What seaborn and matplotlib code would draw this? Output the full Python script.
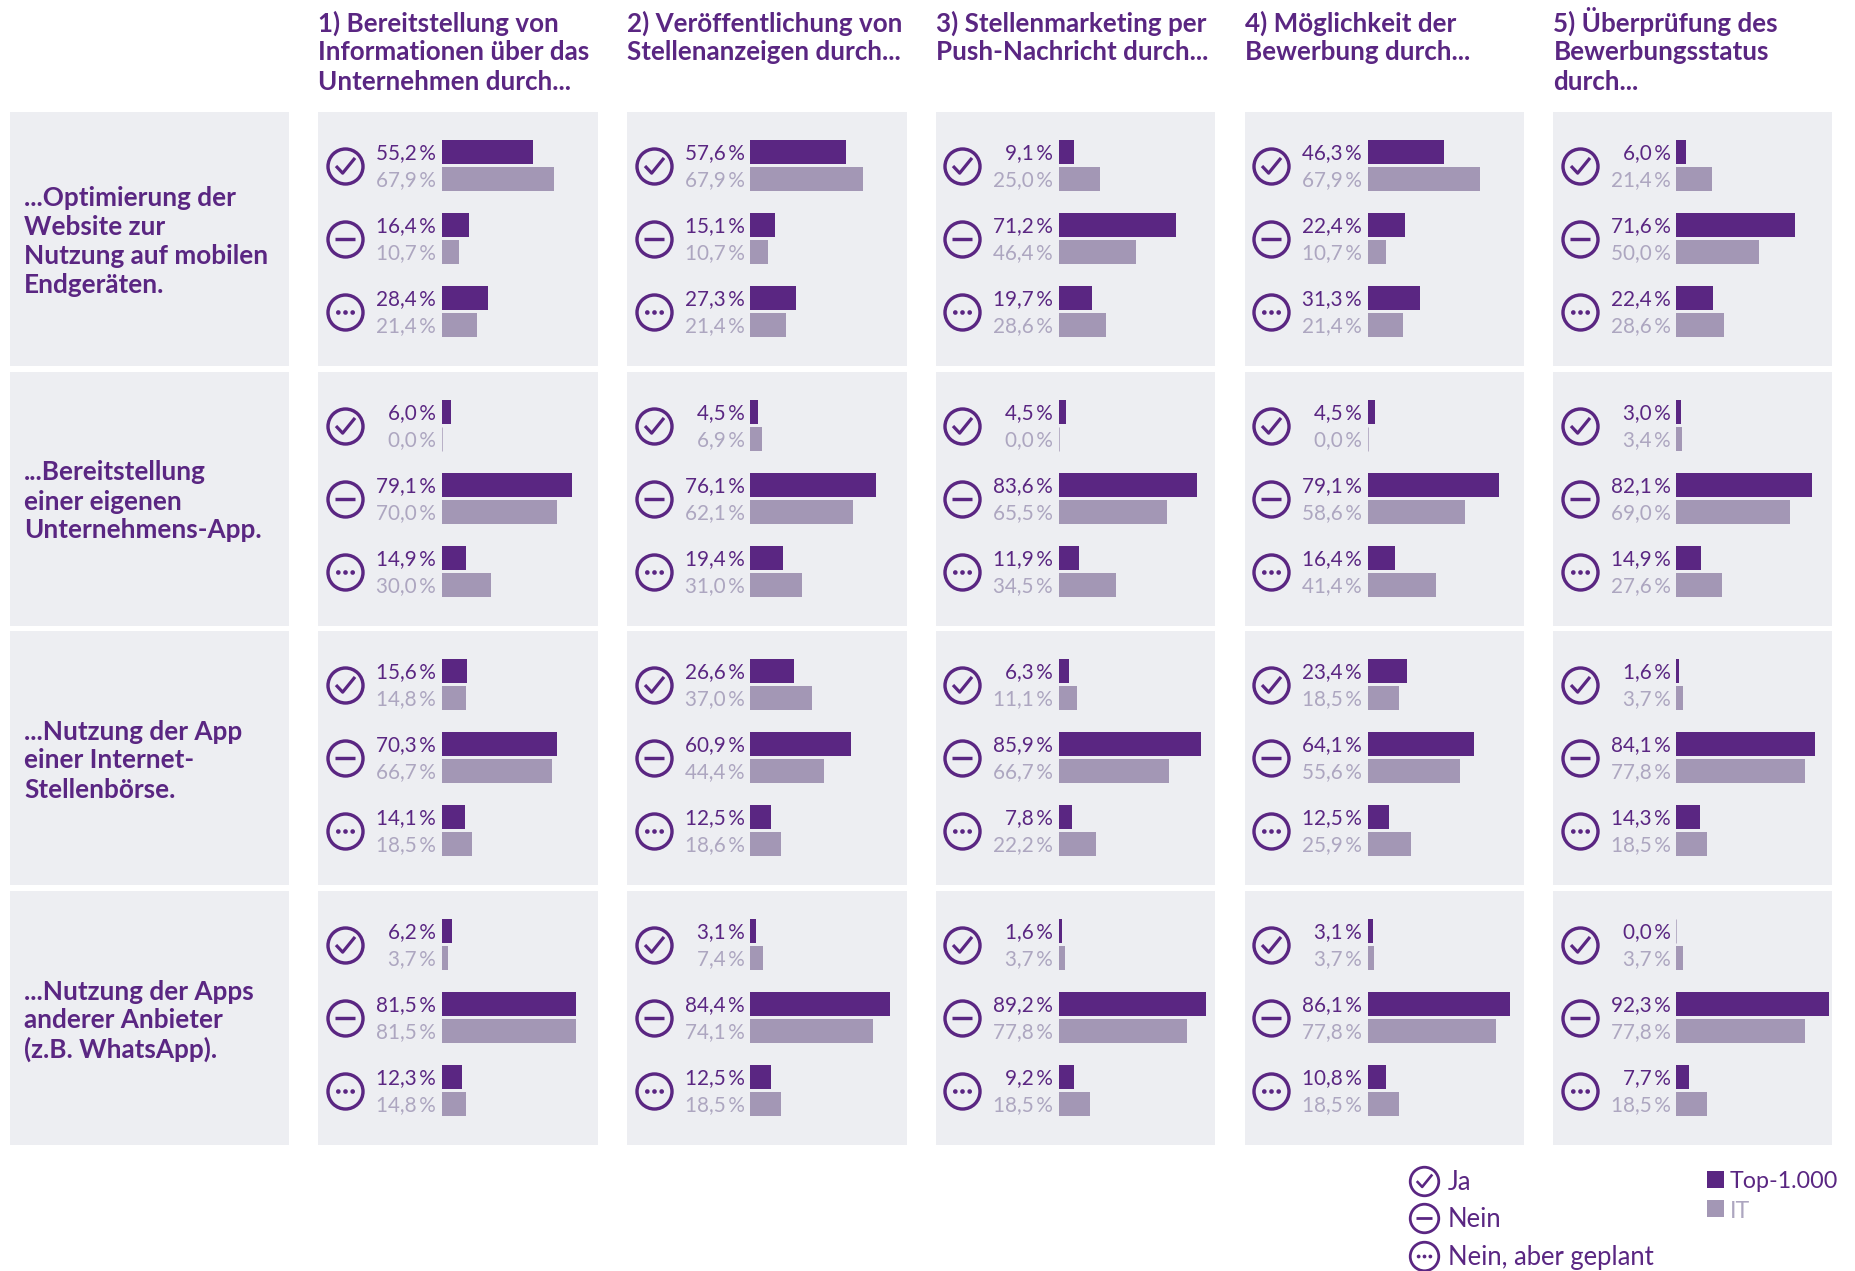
import matplotlib
matplotlib.use("Agg")
import matplotlib.pyplot as plt
from matplotlib.patches import Rectangle
from matplotlib.path import Path
import pandas as pd
import seaborn as sns

# data, one list per row of panels: each column has Ja, Nein, geplant
answers = ["Ja", "Nein", "Nein, aber geplant"]
groups = ["Top-1.000", "IT"]

col_titles = [
    "1) Bereitstellung von\nInformationen über das\nUnternehmen durch...",
    "2) Veröffentlichung von\nStellenanzeigen durch...",
    "3) Stellenmarketing per\nPush-Nachricht durch...",
    "4) Möglichkeit der\nBewerbung durch...",
    "5) Überprüfung des\nBewerbungsstatus\ndurch...",
]
row_titles = [
    "...Optimierung der\nWebsite zur\nNutzung auf mobilen\nEndgeräten.",
    "...Bereitstellung\neiner eigenen\nUnternehmens-App.",
    "...Nutzung der App\neiner Internet-\nStellenbörse.",
    "...Nutzung der Apps\nanderer Anbieter\n(z.B. WhatsApp).",
]

top_row1 = [[55.2, 16.4, 28.4], [57.6, 15.1, 27.3], [9.1, 71.2, 19.7], [46.3, 22.4, 31.3], [6.0, 71.6, 22.4]]
it_row1 = [[67.9, 10.7, 21.4], [67.9, 10.7, 21.4], [25.0, 46.4, 28.6], [67.9, 10.7, 21.4], [21.4, 50.0, 28.6]]
top_row2 = [[6.0, 79.1, 14.9], [4.5, 76.1, 19.4], [4.5, 83.6, 11.9], [4.5, 79.1, 16.4], [3.0, 82.1, 14.9]]
it_row2 = [[0.0, 70.0, 30.0], [6.9, 62.1, 31.0], [0.0, 65.5, 34.5], [0.0, 58.6, 41.4], [3.4, 69.0, 27.6]]
top_row3 = [[15.6, 70.3, 14.1], [26.6, 60.9, 12.5], [6.3, 85.9, 7.8], [23.4, 64.1, 12.5], [1.6, 84.1, 14.3]]
it_row3 = [[14.8, 66.7, 18.5], [37.0, 44.4, 18.6], [11.1, 66.7, 22.2], [18.5, 55.6, 25.9], [3.7, 77.8, 18.5]]
top_row4 = [[6.2, 81.5, 12.3], [3.1, 84.4, 12.5], [1.6, 89.2, 9.2], [3.1, 86.1, 10.8], [0.0, 92.3, 7.7]]
it_row4 = [[3.7, 81.5, 14.8], [7.4, 74.1, 18.5], [3.7, 77.8, 18.5], [3.7, 77.8, 18.5], [3.7, 77.8, 18.5]]

top_rows = [top_row1, top_row2, top_row3, top_row4]
it_rows = [it_row1, it_row2, it_row3, it_row4]

# colours and layout, everything in pixels of the 1856x1271 picture
DARK = "#5A2682"
LIGHT = "#A397B5"
LIGHT_TEXT = "#ADA6C0"
PANEL = "#EDEEF2"
W, H = 1856, 1271

col_lefts = [318.5, 627.5, 936, 1245, 1553.5]
row_tops = [112, 372, 631, 891]
panel_w = 279
panel_h = 254
base_off = 123  # bar base inside panel
px_per_pct = 1.65
group_pitch = 73
first_group = 53.5
line_pitch = 29

sns.set_theme(style="white")
plt.rcParams["font.family"] = ["Lato", "DejaVu Sans"]

fig = plt.figure(figsize=(W / 100, H / 100), dpi=100)


def px(n):
    return n * 0.72


# icon glyphs
check = Path([(-1, 0.05), (-0.3, -0.7), (1, 0.9)], closed=False)
dots = Path.make_compound_path(
    Path.circle((-3.1, 0), 1), Path.circle((0, 0), 1), Path.circle((3.1, 0), 1)
)


def icon(ax, x, y, kind, size=38):
    scale = size / 38
    ax.plot(x, y, marker="o", ms=px(35 * scale), mfc="none", mec=DARK, mew=px(3.4 * scale), zorder=5, clip_on=False)
    if kind == 0:
        ax.plot(x, y, marker=check, ms=px(19 * scale), mfc="none", mec=DARK, mew=px(3.2 * scale), zorder=5)
    elif kind == 1:
        ax.plot(x, y, marker="_", ms=px(20 * scale), mec=DARK, mew=px(3.4 * scale), zorder=5)
    else:
        ax.plot(x, y, marker=dots, ms=px(19 * scale), mfc=DARK, mec=DARK, mew=0, zorder=5)


for r, row_top in enumerate(row_tops):
    for c, col_left in enumerate(col_lefts):
        df = pd.DataFrame({
            "antwort": answers * 2,
            "gruppe": [groups[0]] * 3 + [groups[1]] * 3,
            "wert": top_rows[r][c] + it_rows[r][c],
        })
        ax = fig.add_axes([col_left / W, 1 - (row_top + panel_h) / H, panel_w / W, panel_h / H])
        sns.barplot(data=df, y="antwort", x="wert", hue="gruppe", order=answers, hue_order=groups,
                    palette=[DARK, LIGHT], width=0.74, gap=0.11, legend=False, orient="h",
                    saturation=1, linewidth=0, ax=ax)
        ax.set_xlim(-base_off / px_per_pct, (panel_w - base_off) / px_per_pct)
        ax.set_ylim((panel_h - first_group) / group_pitch, -first_group / group_pitch)
        ax.set_facecolor(PANEL)
        ax.set_xlabel("")
        ax.set_ylabel("")
        ax.set_xticks([])
        ax.set_yticks([])
        for spine in ax.spines.values():
            spine.set_visible(False)

        for container, colour in zip(ax.containers, [DARK, LIGHT_TEXT]):
            for bar in container:
                val = bar.get_width()
                if val == 0:
                    bar.set_edgecolor(LIGHT)
                    bar.set_linewidth(0.5)
                label = f"{val:.1f}".replace(".", ",") + "\u2009%"
                ax.annotate(label, (0, bar.get_y() + bar.get_height() / 2), xytext=(px(-6), px(1)),
                            textcoords="offset points", ha="right", va="center_baseline",
                            color=colour, fontsize=px(20.7))

        for k in range(3):
            icon(ax, (26.5 - base_off) / px_per_pct, k, k)

# overlay for titles and legend, in picture pixels
over = fig.add_axes([0, 0, 1, 1], zorder=10)
over.set_xlim(0, W)
over.set_ylim(H, 0)
over.axis("off")

for col_left, title in zip(col_lefts, col_titles):
    for i, line in enumerate(title.split("\n")):
        over.text(col_left, 31.5 + i * line_pitch, line, color=DARK, fontsize=px(26), fontweight="bold",
                  va="baseline", ha="left")

for row_top, title in zip(row_tops, row_titles):
    over.add_patch(Rectangle((10, row_top), 279, panel_h, color=PANEL, lw=0))
    lines = title.split("\n")
    first = row_top + panel_h / 2 + 10.5 - (len(lines) - 1) * line_pitch / 2
    for i, line in enumerate(lines):
        over.text(24, first + i * line_pitch, line, color=DARK, fontsize=px(26.1), fontweight="bold",
                  va="baseline", ha="left")

# legend
for k, (y, name) in enumerate(zip([1181, 1218, 1256], answers)):
    icon(over, 1424, y, k, size=31)
    over.text(1448, y - 1, name, color=DARK, fontsize=px(25.6), va="center_baseline", ha="left")

over.add_patch(Rectangle((1707.5, 1171), 17, 17, color=DARK, lw=0))
over.add_patch(Rectangle((1707.5, 1200), 17, 17, color=LIGHT, lw=0))
over.text(1730, 1180, groups[0], color=DARK, fontsize=px(23.2), va="center_baseline", ha="left")
over.text(1730, 1209, groups[1], color=LIGHT_TEXT, fontsize=px(23.2), va="center_baseline", ha="left")

fig.savefig("out.png", dpi=100, facecolor="white")
